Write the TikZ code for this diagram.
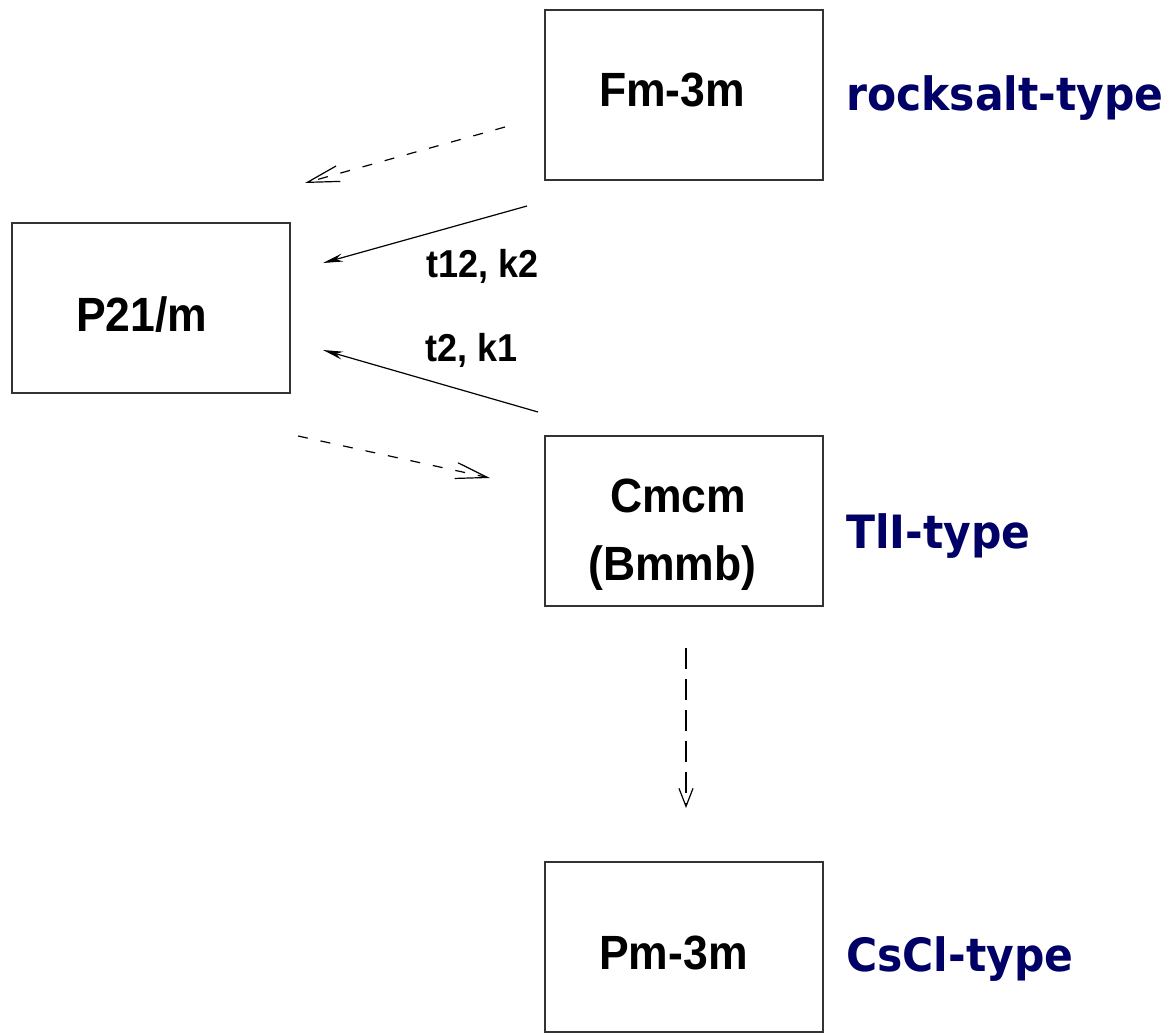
\documentclass[tikz,border=0pt]{standalone}
\usepackage{fontspec}
\setmainfont{Liberation Sans}
\newfontfamily\labfont{DejaVu Sans}
\usetikzlibrary{arrows.meta}
\definecolor{navy}{RGB}{0,0,102}
\newcommand{\tallify}[1]{\scalebox{1}[1.08]{#1}}
\begin{document}
\begin{tikzpicture}[x=1pt,y=-1pt,
  groupbox/.style={draw=black!80, line width=1.8pt, minimum width=278pt, minimum height=170pt, inner sep=0pt},
  boxtext/.style={anchor=base west, inner sep=0pt, font=\bfseries\fontsize{44.5}{52}\selectfont},
  typelabel/.style={anchor=base west, text=navy, inner sep=0pt, font=\labfont\bfseries\fontsize{42.5}{50}\selectfont},
  arrlabel/.style={anchor=base west, inner sep=0pt, font=\bfseries\fontsize{36}{44}\selectfont},
  solidarrow/.style={line width=1.2pt, -{Stealth[length=20pt,width=8pt]}},
  dasharrow/.style={line width=1.2pt, dash pattern=on 10pt off 13pt, -{Straight Barb[length=32pt,width=16pt,line width=1.2pt]}},
  vdasharrow/.style={line width=1.2pt, dash pattern=on 21pt off 10pt, -{Straight Barb[length=18pt,width=14pt,line width=1.2pt]}}
]
\useasboundingbox (0,0) rectangle (1175,1034);
\node[groupbox] (fm) at (684,95) {};
\node[groupbox] (p21) at (151,308) {};
\node[groupbox] (cmcm) at (684,521) {};
\node[groupbox] (pm) at (684,947) {};

\node[boxtext] (fmt) at (599,106) {\tallify{Fm-3m}};
\node[boxtext] (p21t) at (76,331) {\tallify{P21/m}};
\node[boxtext] (cmcmt) at (610,512) {\tallify{Cmcm}};
\node[boxtext] (bmmbt) at (588,580) {\tallify{(Bmmb)}};
\node[boxtext] (pmt) at (599,969) {\tallify{Pm-3m}};

\node[typelabel] (rs) at (846,110) {\tallify{rocksalt-type}};
\node[typelabel] (tli) at (846,548) {\tallify{TlI-type}};
\node[typelabel] (cscl) at (846,971) {\tallify{CsCl-type}};

\coordinate (d1s) at (505,127);
\coordinate (d1e) at (305,183);
\coordinate (s1s) at (527,206);
\coordinate (s1e) at (323,263);
\coordinate (s2s) at (538,412);
\coordinate (s2e) at (323,350);
\coordinate (d2s) at (298,436);
\coordinate (d2e) at (490,478);
\coordinate (v1s) at (686,648);
\coordinate (v1e) at (686,808);

\draw[dasharrow] (d1s) -- (d1e);
\draw[solidarrow] (s1s) -- (s1e);
\draw[solidarrow] (s2s) -- (s2e);
\draw[dasharrow] (d2s) -- (d2e);
\draw[vdasharrow] (v1s) -- (v1e);

\node[arrlabel] (l1) at (426,277) {\tallify{t12, k2}};
\node[arrlabel] (l2) at (425,361) {\tallify{t2, k1}};
\end{tikzpicture}
\end{document}
